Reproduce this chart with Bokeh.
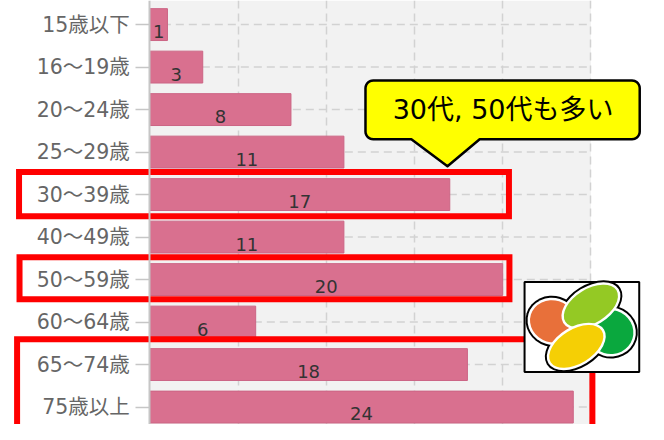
import numpy as np
from bokeh.plotting import figure
from bokeh.models import Range1d, LinearAxis, FixedTicker, Grid, ColumnDataSource
from bokeh.core.properties import value
from bokeh.embed import file_html
from bokeh.resources import INLINE

# ---- data ----
categories = ["15歳以下", "16～19歳", "20～24歳", "25～29歳", "30～39歳",
              "40～49歳", "50～59歳", "60～64歳", "65～74歳", "75歳以上"]
counts = [1, 3, 8, 11, 17, 11, 20, 6, 18, 24]
x_ticks = [0, 5, 10, 15, 20, 25]
callout_text = "30代, 50代も多い"

FONT = "DejaVu Sans, Noto Sans CJK JP"
CJK = "Noto Sans CJK JP"

# ---- layout constants ----
FIG_W, FIG_H = 648, 424
REF_W, REF_H = 664, 440            # reference picture size (pixels)
REF_X0, REF_PX_X = 153.0, 18.08    # reference px of x=0 and px per unit
REF_Y0, REF_PX_Y = 25.0, 44.1      # reference px of first category and px per category


def dx(px):
    return (px - REF_X0) / REF_PX_X


def dy(py):
    return (py - REF_Y0) / REF_PX_Y


x_range = Range1d(dx(0), dx(REF_W))
y_range = Range1d(dy(REF_H), dy(0))

p = figure(width=FIG_W, height=FIG_H, x_range=x_range, y_range=y_range,
           x_axis_location=None, y_axis_location=None,
           output_backend="svg", toolbar_location=None, min_border=0)
p.title.visible = False
p.grid.visible = False
p.outline_line_color = None
p.background_fill_color = "white"
p.border_fill_color = "white"

x_max = x_ticks[-1]
idx = list(range(len(categories)))

# plot-area background
bg = p.quad(left=[x_ticks[0]], right=[x_max], top=[y_range.end], bottom=[y_range.start],
            fill_color="#f2f2f2", line_color=None)
bg.level = "image"

# vertical dashed grid
vgrid = Grid(dimension=0, ticker=FixedTicker(ticks=x_ticks[1:]),
             grid_line_color="#d2d2d2", grid_line_dash="8 5", grid_line_width=1.5)
p.add_layout(vgrid, "center")

# horizontal dashed grid through category centres
p.segment(x0=[x_ticks[0]] * len(idx), x1=[x_max] * len(idx), y0=idx, y1=idx,
          line_color="#d2d2d2", line_dash="8 5", line_width=1.5)

# value labels sit slightly below the bar centre; keep them inside the canvas
sy_scale = FIG_H / REF_H
offs = []
for i in idx:
    centre = (REF_Y0 + i * REF_PX_Y) * sy_scale
    offs.append(min(7, FIG_H - 11 - centre))

src = ColumnDataSource(dict(y=idx, v=counts, mid=[c / 2 for c in counts],
                            lab=[str(c) for c in counts], off=offs))

p.hbar(y="y", left=0, right="v", height=0.75, source=src,
       fill_color="#d9708f", line_color="#cc6585", line_width=1)

p.text(x="mid", y="y", text="lab", source=src, y_offset="off",
       text_align="center", text_baseline="middle",
       text_font=value(FONT), text_font_size="18px", text_color="#333333")

# category axis fixed at x = 0
yaxis = LinearAxis(fixed_location=0, ticker=FixedTicker(ticks=idx),
                   major_label_overrides={i: c for i, c in zip(idx, categories)})
yaxis.axis_line_color = "#c6c6c6"
yaxis.axis_line_width = 2
yaxis.major_tick_line_color = "#c6c6c6"
yaxis.major_tick_line_width = 1.5
yaxis.major_tick_out = 14
yaxis.major_tick_in = 0
yaxis.minor_tick_line_color = None
yaxis.major_label_standoff = 6
yaxis.major_label_text_font = FONT
yaxis.major_label_text_font_size = "20.5px"
yaxis.major_label_text_color = "#666666"
p.add_layout(yaxis, "left")

# red highlight boxes (reference pixel boxes: left, top, right, bottom)
boxes = [(19, 178, 521, 224), (19.5, 266.5, 521.5, 310), (17, 351.5, 606.5, 470)]
p.quad(left=[dx(b[0]) for b in boxes], right=[dx(b[2]) for b in boxes],
       top=[dy(b[1]) for b in boxes], bottom=[dy(b[3]) for b in boxes],
       fill_color=None, line_color="#ff0000", line_width=6, line_join="miter")

# callout bubble (reference pixels)
L, R, T, B, r = 374, 655, 83, 144, 8
ptr_l, ptr_r, tip = 421, 491, (458, 172)


def arc(cx, cy, a0, a1, n=8):
    t = np.linspace(a0, a1, n)
    return list(cx + r * np.cos(t)), list(cy + r * np.sin(t))


xs, ys = [], []
for (cx, cy, a0, a1) in [(R - r, T + r, -np.pi / 2, 0), (R - r, B - r, 0, np.pi / 2)]:
    ax_, ay_ = arc(cx, cy, a0, a1)
    xs += ax_
    ys += ay_
xs += [ptr_r, tip[0], ptr_l]
ys += [B, tip[1], B]
for (cx, cy, a0, a1) in [(L + r, B - r, np.pi / 2, np.pi), (L + r, T + r, np.pi, 1.5 * np.pi)]:
    ax_, ay_ = arc(cx, cy, a0, a1)
    xs += ax_
    ys += ay_
p.patch(x=[dx(v) for v in xs], y=[dy(v) for v in ys], fill_color="#ffff00",
        line_color="black", line_width=2.5, line_join="round")
p.text(x=[dx(515)], y=[dy(113)], text=[callout_text], text_align="center",
       text_baseline="middle", text_font=value(FONT), text_font_size="27px",
       text_color="black")

# logo (reference pixels)
p.quad(left=[dx(537)], right=[dx(654.5)], top=[dy(292)], bottom=[dy(385.5)],
       fill_color="white", line_color="black", line_width=2)
petals = [  # ref cx, cy, w, h, angle, colour
    (566, 333, 46, 42, -0.3, "#e8703a"),
    (625, 344, 46, 44, -0.3, "#0aa83e"),
    (605, 317, 60, 34, 0.55, "#94c924"),
    (590, 359, 60, 34, 0.55, "#f5cf05"),
]
p.ellipse(x=[dx(q[0]) for q in petals], y=[dy(q[1]) for q in petals],
          width=[q[2] + 9 for q in petals], height=[q[3] + 9 for q in petals],
          angle=[q[4] for q in petals], width_units="screen", height_units="screen",
          fill_color="black", line_color=None)
for q in petals:
    p.ellipse(x=[dx(q[0])], y=[dy(q[1])], width=[q[2] + 5], height=[q[3] + 5],
              angle=[q[4]], width_units="screen", height_units="screen",
              fill_color="white", line_color=None)
    p.ellipse(x=[dx(q[0])], y=[dy(q[1])], width=[q[2]], height=[q[3]],
              angle=[q[4]], width_units="screen", height_units="screen",
              fill_color=q[5], line_color=None)

open("out.html", "w").write(file_html(p, INLINE))
